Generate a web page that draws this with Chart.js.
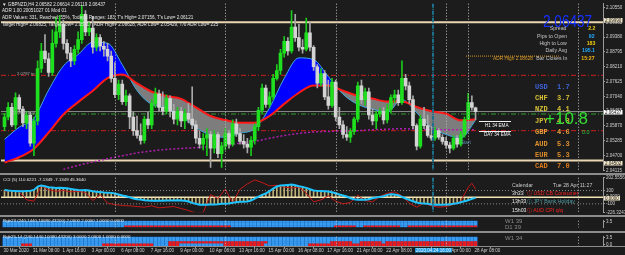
<!DOCTYPE html>
<html>
<head>
<meta charset="utf-8">
<title>GBPNZD H4</title>
<script src="https://cdn.jsdelivr.net/npm/chart.js@4.4.1/dist/chart.umd.min.js"></script>
<style>
  html, body { margin: 0; padding: 0; }
  body { width: 625px; height: 255px; background: #1c1c1c; overflow: hidden; position: relative; font-family: "Liberation Sans", Arial, sans-serif; }
  canvas { position: absolute; left: 0; }
  .sep { position: absolute; left: 0; width: 625px; height: 2px; background: #8c8c8c; }
  .seg { position: absolute; height: 1px; background: #f0f0f0; }
</style>
</head>
<body>
<canvas id="mainChart" width="625" height="174" style="top:0"></canvas>
<canvas id="cciChart" width="625" height="42" style="top:174px"></canvas>
<canvas id="rgbChart1" width="625" height="14" style="top:217px"></canvas>
<canvas id="rgbChart2" width="625" height="22" style="top:233px"></canvas>
<div class="sep" style="top:173px"></div>
<div class="sep" style="top:215px"></div>
<div class="sep" style="top:231px"></div>
<div class="sep" style="top:246px;height:1px"></div>
<script>
// ---- data ----
const timeLabels = ['30 Mar 2020', '31 Mar 08:00', '1 Apr 16:00', '3 Apr 00:00', '6 Apr 08:00', '7 Apr 16:00',
  '9 Apr 00:00', '10 Apr 08:00', '13 Apr 16:00', '15 Apr 00:00', '16 Apr 08:00', '17 Apr 16:00',
  '21 Apr 00:00', '22 Apr 08:00', '23 Apr 16:00', '27 Apr 00:00', '28 Apr 08:00'];

const opens = [
  2.0584, 2.0622, 2.0660, 2.0591, 2.0699, 2.0653, 2.0599, 2.0630, 2.0519, 2.0607,
  2.0814, 2.0883, 2.0852, 2.0798, 2.0913, 2.0959, 2.0990, 2.0913, 2.0875, 2.0844,
  2.0890, 2.0928, 2.1028, 2.0959, 2.0974, 2.0898, 2.0936, 2.0902, 2.0890, 2.0863,
  2.0775, 2.0710, 2.0752, 2.0683, 2.0706, 2.0622, 2.0568, 2.0549, 2.0530, 2.0614,
  2.0591, 2.0676, 2.0714, 2.0660, 2.0645, 2.0695, 2.0645, 2.0614, 2.0645, 2.0607,
  2.0637, 2.0614, 2.0591, 2.0538, 2.0515, 2.0538, 2.0553, 2.0499, 2.0553, 2.0477,
  2.0507, 2.0557, 2.0515, 2.0595, 2.0557, 2.0526, 2.0515, 2.0503, 2.0530, 2.0584,
  2.0649, 2.0737, 2.0672, 2.0702, 2.0775, 2.0806, 2.0875, 2.0921, 2.0883, 2.0978,
  2.0936, 2.0898, 2.0890, 2.0955, 2.0898, 2.0821, 2.0756, 2.0794, 2.0702, 2.0668,
  2.0760, 2.0622, 2.0591, 2.0553, 2.0542, 2.0565, 2.0614, 2.0745, 2.0691, 2.0722,
  2.0630, 2.0607, 2.0634, 2.0645, 2.0611, 2.0653, 2.0699, 2.0710, 2.0679, 2.0775,
  2.0745, 2.0691, 2.0588, 2.0507, 2.0614, 2.0588, 2.0549, 2.0538, 2.0568, 2.0542,
  2.0526, 2.0511, 2.0499, 2.0538, 2.0515, 2.0553, 2.0613, 2.0679, 2.06582];
const highs = [
  2.0637, 2.0679, 2.0676, 2.0718, 2.0710, 2.0664, 2.0645, 2.0641, 2.0622, 2.0844,
  2.0913, 2.0948, 2.0875, 2.0967, 2.1017, 2.1024, 2.1005, 2.0928, 2.0898, 2.0905,
  2.0959, 2.1063, 2.1043, 2.0997, 2.1020, 2.0951, 2.0948, 2.0921, 2.0913, 2.0883,
  2.0837, 2.0768, 2.0768, 2.0729, 2.0714, 2.0641, 2.0626, 2.0595, 2.0626, 2.0641,
  2.0691, 2.0737, 2.0729, 2.0722, 2.0710, 2.0706, 2.0672, 2.0660, 2.0660, 2.0653,
  2.0676, 2.0741, 2.0607, 2.0568, 2.0557, 2.0576, 2.0565, 2.0568, 2.0561, 2.0522,
  2.0576, 2.0568, 2.0611, 2.0614, 2.0576, 2.0553, 2.0538, 2.0545, 2.0595, 2.0660,
  2.0752, 2.0748, 2.0722, 2.0791, 2.0829, 2.0890, 2.0940, 2.0936, 2.1043, 2.1028,
  2.0990, 2.0928, 2.1013, 2.0997, 2.0905, 2.0829, 2.0814, 2.0806, 2.0768, 2.0775,
  2.0768, 2.0660, 2.0607, 2.0584, 2.0576, 2.0622, 2.0760, 2.0768, 2.0737, 2.0737,
  2.0653, 2.0645, 2.0657, 2.0660, 2.0672, 2.0710, 2.0729, 2.0729, 2.0844, 2.0791,
  2.0760, 2.0706, 2.0595, 2.0630, 2.0660, 2.0630, 2.0584, 2.0580, 2.0576, 2.0553,
  2.0542, 2.0522, 2.0549, 2.0549, 2.0565, 2.0622, 2.07156, 2.0706, 2.06614];
const lows = [
  2.0568, 2.0611, 2.0584, 2.0576, 2.0641, 2.0584, 2.0576, 2.0507, 2.0469, 2.0591,
  2.0798, 2.0837, 2.0783, 2.0787, 2.0898, 2.0936, 2.0890, 2.0852, 2.0821, 2.0829,
  2.0875, 2.0913, 2.0944, 2.0944, 2.0875, 2.0883, 2.0883, 2.0863, 2.0844, 2.0760,
  2.0699, 2.0691, 2.0672, 2.0668, 2.0576, 2.0549, 2.0538, 2.0515, 2.0519, 2.0576,
  2.0576, 2.0660, 2.0645, 2.0630, 2.0634, 2.0622, 2.0595, 2.0591, 2.0584, 2.0576,
  2.0599, 2.0576, 2.0519, 2.0499, 2.0492, 2.0469, 2.0423, 2.0480, 2.0461, 2.0423,
  2.0492, 2.0499, 2.0507, 2.0545, 2.0515, 2.0499, 2.0480, 2.0469, 2.0515, 2.0568,
  2.0637, 2.0660, 2.0660, 2.0691, 2.0768, 2.0791, 2.0859, 2.0867, 2.0875, 2.0921,
  2.0883, 2.0875, 2.0883, 2.0883, 2.0806, 2.0737, 2.0745, 2.0691, 2.0653, 2.0660,
  2.0607, 2.0576, 2.0538, 2.0530, 2.0522, 2.0553, 2.0603, 2.0676, 2.0668, 2.0614,
  2.0591, 2.0576, 2.0622, 2.0595, 2.0599, 2.0637, 2.0679, 2.0668, 2.0672, 2.0729,
  2.0676, 2.0576, 2.0492, 2.0499, 2.0576, 2.0542, 2.0530, 2.0530, 2.0534, 2.0515,
  2.0499, 2.0480, 2.0492, 2.0503, 2.0507, 2.0542, 2.06121, 2.0649, 2.06119];
const closes = [
  2.0622, 2.0660, 2.0591, 2.0699, 2.0653, 2.0599, 2.0630, 2.0519, 2.0607, 2.0814,
  2.0883, 2.0852, 2.0798, 2.0913, 2.0959, 2.0990, 2.0913, 2.0875, 2.0844, 2.0890,
  2.0928, 2.1028, 2.0959, 2.0974, 2.0898, 2.0936, 2.0902, 2.0890, 2.0863, 2.0775,
  2.0710, 2.0752, 2.0683, 2.0706, 2.0622, 2.0568, 2.0549, 2.0530, 2.0614, 2.0591,
  2.0676, 2.0714, 2.0660, 2.0645, 2.0695, 2.0645, 2.0614, 2.0645, 2.0607, 2.0637,
  2.0614, 2.0591, 2.0538, 2.0515, 2.0538, 2.0553, 2.0499, 2.0553, 2.0477, 2.0507,
  2.0557, 2.0515, 2.0595, 2.0557, 2.0526, 2.0515, 2.0503, 2.0530, 2.0584, 2.0649,
  2.0737, 2.0672, 2.0702, 2.0775, 2.0806, 2.0875, 2.0921, 2.0883, 2.0978, 2.0936,
  2.0898, 2.0890, 2.0955, 2.0898, 2.0821, 2.0756, 2.0794, 2.0702, 2.0668, 2.0760,
  2.0622, 2.0591, 2.0553, 2.0542, 2.0565, 2.0614, 2.0745, 2.0691, 2.0722, 2.0630,
  2.0607, 2.0634, 2.0645, 2.0611, 2.0653, 2.0699, 2.0710, 2.0679, 2.0775, 2.0745,
  2.0691, 2.0588, 2.0507, 2.0614, 2.0588, 2.0549, 2.0538, 2.0568, 2.0542, 2.0526,
  2.0511, 2.0499, 2.0538, 2.0515, 2.0553, 2.0611, 2.0679, 2.0660, 2.06437];

// moving averages, read every 4th bar
const emaIdx = [0, 4, 8, 12, 16, 20, 24, 28, 32, 36, 40, 44, 48, 52, 56, 60, 64, 68, 72, 76, 80,
  84, 88, 92, 96, 100, 104, 108, 112, 116, 120, 124, 128];
const emaSlow = [2.0442, 2.0463, 2.0497, 2.0561, 2.0632, 2.0681, 2.0726, 2.0776, 2.0790, 2.0755, 2.0722,
  2.0705, 2.0694, 2.0660, 2.0626, 2.0610, 2.0599, 2.0599, 2.0626, 2.0674, 2.0718,
  2.0747, 2.0747, 2.0726, 2.0706, 2.0695, 2.0683, 2.0683, 2.0662, 2.0645, 2.0635, 2.0609, 2.0613];
const emaFast = [2.0534, 2.0582, 2.0617, 2.0729, 2.0824, 2.0869, 2.0918, 2.0914, 2.0829, 2.0727, 2.0672,
  2.0659, 2.0625, 2.0581, 2.0550, 2.0542, 2.0558, 2.0576, 2.0658, 2.0775, 2.0856,
  2.0849, 2.0782, 2.0712, 2.0672, 2.0653, 2.0641, 2.0691, 2.0639, 2.0580, 2.0553, 2.0539, 2.0609];
const dayEmaIdx = [16, 20, 24, 28, 32, 36, 40, 44, 48, 52, 56, 60, 64, 68, 72, 76, 80, 84, 88, 92,
  96, 100, 104, 108, 112, 116, 120, 124, 128];
const dayEma = [2.0415, 2.0431, 2.0444, 2.0457, 2.0469, 2.0480, 2.0488, 2.0494, 2.0498, 2.0501,
  2.0505, 2.0509, 2.0519, 2.0526, 2.0538, 2.0549, 2.0557, 2.0563, 2.0565, 2.0567,
  2.0568, 2.0572, 2.0574, 2.0576, 2.0574, 2.0572, 2.0572, 2.0572, 2.0572];

// horizontal levels
const adrUpper = 2.0997, adrLower = 2.0450, tpLine = 2.0787, slLine = 2.0568;
const entryLine = 2.0634, bidLine = 2.06437, adrHighLine = 2.0863;

// CCI window
const cciSlow = [107, 100, 95, 92, 90, 90, 92, 95, 110, 160, 175, 165, 150, 145, 140, 142, 140, 135,
  125, 115, 108, 105, 107, 100, 90, 82, 78, 72, 68, 65, 55, 40, 25, 15, 0, -20, -30, -35,
  -45, -50, -52, -55, -53, -52, -50, -50, -48, -47, -50, -52, -65, -85, -100, -112, -115,
  -112, -110, -108, -105, -100, -98, -95, -85, -75, -70, -68, -65, -50, -20, 10, 35, 55,
  90, 130, 160, 175, 180, 185, 190, 180, 165, 155, 140, 120, 100, 95, 92, 90, 85, 75,
  60, 40, 25, 10, -15, -30, -38, -40, -38, -30, -15, -5, 5, 15, 35, 45, 40, 30, 5, -20, -40,
  -60, -80, -90, -95, -100, -108, -112, -115, -112, -110, -108, -100, -90, -75, -60, -45, -25, -10];
const cciFastIdx = [0, 2, 4, 6, 8, 10, 12, 14, 16, 18, 20, 22, 24, 26, 28, 30, 32, 34, 36, 38, 40,
  42, 44, 46, 48, 50, 52, 54, 56, 58, 60, 62, 64, 66, 68, 70, 72, 74, 76, 78, 80, 82, 84, 86,
  88, 90, 92, 94, 96, 98, 100, 102, 104, 106, 108, 110, 112, 114, 116, 118, 120, 122, 124, 126, 127, 128];
const cciFast = [90, 100, 80, -40, -60, 170, 110, 90, 100, 80, 90, 70, -50, 40, -90, -110, -125, -130,
  -140, -150, -130, -160, -150, -140, -170, -200, -240, -230, 40, -20, 120, -80, 120, 200, 260,
  220, 170, 180, 150, 140, 150, 60, -70, -40, 20, -60, -100, -80, 30, -50, -70, 10, 60, 80, 20,
  -90, -150, -90, -130, -150, -140, -110, -60, 150, 210, 120];
const cciTicks = [293, 100, 0, -100, -227];
const cciTickText = ['202.5556', '100', '0.0000', '-100', '-226.3247'];

// colour-state panels: bar ranges where a row is red (row 0 = bottom)
const rgb23Red = [[[33, 61], [90, 95], [98, 107], [110, 128]], [], [], []];
const rgb25Red = [[[5, 7], [27, 40], [45, 47], [60, 70], [83, 128]], [[45, 71], [89, 94], [97, 102], [104, 128]], [], []];
const rowLevels = [0, 1.1667, 2.3333, 3.5];

// ---- layout helpers ----
const family = '"Liberation Sans", Arial, sans-serif';
const xMin = -0.9511, xMax = 162.636;
const crossAt = 116.4;
const barIdx = opens.map((o, i) => i);
const timeIdx = timeLabels.map((t, k) => k * 8);
const priceTicks = [];
for (let k = 0; k < 12; k++) priceTicks.push(+(2.04115 + k * 0.00585).toFixed(5));

Chart.defaults.font.family = family;

const sepPlugin = {
  id: 'seps',
  afterDatasetsDraw(chart, args, opts) {
    const { ctx, chartArea: a } = chart;
    const x = chart.scales.x;
    ctx.save();
    ctx.strokeStyle = '#bfbfbf';
    ctx.lineWidth = 1;
    ctx.setLineDash([1, 2]);
    (opts.at || []).forEach(v => {
      const px = Math.round(x.getPixelForValue(v)) + 0.5;
      ctx.beginPath(); ctx.moveTo(px, a.top); ctx.lineTo(px, a.bottom); ctx.stroke();
    });
    if (opts.cross) {
      ctx.strokeStyle = '#1d6f8c';
      ctx.lineWidth = 2;
      ctx.setLineDash([4, 1, 1, 1]);
      const cx = Math.round(x.getPixelForValue(crossAt));
      ctx.beginPath(); ctx.moveTo(cx, a.top); ctx.lineTo(cx, a.bottom); ctx.stroke();
    }
    ctx.restore();
  }
};

function yAxis(min, max, ticks, fmt) {
  return {
    position: 'right', min, max,
    afterFit: s => { s.width = 22; },
    afterBuildTicks: s => { s.ticks = ticks.map(v => ({ value: v })); },
    grid: { drawOnChartArea: false, tickLength: 2, color: '#9a9a9a' },
    border: { color: '#9a9a9a' },
    ticks: { color: '#d0d0d0', font: { size: 4.5 }, padding: 1, callback: fmt }
  };
}

function hiddenX() {
  return { type: 'linear', min: xMin, max: xMax, offset: false, display: false };
}

function baseOptions(padding, scales, seps) {
  return {
    responsive: false, animation: false, events: [],
    layout: { padding },
    plugins: { legend: { display: false }, tooltip: { enabled: false }, seps },
    scales
  };
}

function level(p, color, dash, width, from, to) {
  return {
    type: 'line', data: [{ x: from ?? xMin, y: p }, { x: to ?? xMax, y: p }],
    borderColor: color, borderDash: dash, borderWidth: width, pointRadius: 0, order: 8
  };
}

function inRanges(ranges, i) {
  return ranges.some(r => i >= r[0] && i <= r[1]);
}

// ---- main price chart ----
const bull = barIdx.map(i => closes[i] >= opens[i]);
const mainSets = [
  { type: 'bar', data: barIdx.map(i => ({ x: i, y: [opens[i], closes[i]] })),
    backgroundColor: barIdx.map(i => bull[i] ? '#1fe01f' : '#d4d4d4'), barThickness: 3, grouped: false, order: 0 },
  { type: 'bar', data: barIdx.map(i => ({ x: i, y: [lows[i], highs[i]] })),
    backgroundColor: barIdx.map(i => bull[i] ? '#1cc81c' : '#a8a8a8'), barThickness: 1, grouped: false, order: 1 },
  { type: 'line', data: emaIdx.map((i, k) => ({ x: i, y: emaSlow[k] })), borderColor: '#ff1a1a', borderWidth: 2,
    pointRadius: 0, cubicInterpolationMode: 'monotone', order: 2 },
  { type: 'line', data: emaIdx.map((i, k) => ({ x: i, y: emaFast[k] })), borderColor: '#3fa9e0', borderWidth: 1,
    pointRadius: 0, cubicInterpolationMode: 'monotone', order: 4,
    fill: { target: 2, above: '#0000ff', below: '#7d7d7d' } },
  { type: 'line', data: dayEmaIdx.map((i, k) => ({ x: i, y: dayEma[k] })), borderColor: '#b01eb0', borderWidth: 1.5,
    borderDash: [2, 2], pointRadius: 0, cubicInterpolationMode: 'monotone', order: 3 },
  level(adrUpper, '#ead7b2', [], 2),
  level(adrLower, '#ead7b2', [], 2),
  level(tpLine, '#cc1e1e', [5, 2, 1, 2], 1),
  level(slLine, '#cc1e1e', [5, 2, 1, 2], 1),
  level(entryLine, '#2e9e2e', [5, 2, 1, 2], 1),
  level(bidLine, '#8a8a8a', [], 1),
  level(adrHighLine, '#d89a28', [1, 1], 1, 125.4, 151)
];

new Chart(document.getElementById('mainChart'), {
  type: 'bar',
  data: { datasets: mainSets },
  options: baseOptions({ left: 1, top: 1, bottom: 1, right: 0 }, {
    x: hiddenX(),
    y: yAxis(2.04114, 2.10702, priceTicks, v => v.toFixed(5))
  }, { at: [30, 60, 90, 120, 126, 155.8], cross: true }),
  plugins: [sepPlugin]
});

// ---- CCI window ----
new Chart(document.getElementById('cciChart'), {
  type: 'bar',
  data: { datasets: [
    { type: 'line', data: barIdx.map(i => ({ x: i, y: cciSlow[i] })), borderColor: '#1ec4ff', borderWidth: 2, pointRadius: 0, order: 0 },
    { type: 'line', data: cciFastIdx.map((i, k) => ({ x: i, y: cciFast[k] })), borderColor: '#c41a1a', borderWidth: 1, pointRadius: 0, order: 1 },
    { type: 'bar', data: barIdx.map(i => ({ x: i, y: [0, cciSlow[i]] })), backgroundColor: '#bcae74', barThickness: 1, grouped: false, order: 3 },
    level(100, '#8c8c8c', [1, 2], 1),
    level(-100, '#8c8c8c', [1, 2], 1),
    Object.assign(level(0, '#f2e4b4', [], 1.5), { order: 2 })
  ] },
  options: baseOptions({ left: 1, top: 2, bottom: 1, right: 0 }, {
    x: hiddenX(),
    y: yAxis(-227, 293, cciTicks, (v, k) => cciTickText[k])
  }, { at: [30, 60, 90, 120, 155.8], cross: true }),
  plugins: [sepPlugin]
});

// ---- colour-state panels ----
function heatSets(redRows) {
  const sets = rowLevels.map((lvl, r) => ({
    type: 'bar', data: barIdx.map(i => ({ x: i, y: [lvl - 0.46, lvl + 0.46] })),
    backgroundColor: barIdx.map(i => inRanges(redRows[r], i) ? '#f01a1a' : '#379cf2'),
    barThickness: 2.7, grouped: false, order: 0
  }));
  sets.push({ type: 'bar', data: barIdx.map(i => ({ x: i, y: [-0.5833, 4.0833] })),
    backgroundColor: '#0e4a94', barThickness: 3.7, grouped: false, order: 1 });
  return sets;
}

new Chart(document.getElementById('rgbChart1'), {
  type: 'bar',
  data: { datasets: heatSets(rgb23Red) },
  options: baseOptions({ left: 1, top: 0, bottom: 0, right: 0 }, {
    x: hiddenX(),
    y: yAxis(-0.5833, 4.0833, [3.5, 0], v => v.toFixed(1))
  }, { at: [30, 60, 90, 120, 155.8] }),
  plugins: [sepPlugin]
});

new Chart(document.getElementById('rgbChart2'), {
  type: 'bar',
  data: { datasets: heatSets(rgb25Red) },
  options: baseOptions({ left: 1, top: 0, bottom: 0, right: 0 }, {
    x: {
      type: 'linear', min: xMin, max: xMax, offset: false, position: 'bottom',
      afterFit: s => { s.height = 9; },
      afterBuildTicks: s => { s.ticks = timeIdx.map(v => ({ value: v })); },
      grid: { drawOnChartArea: false, tickLength: 2, color: '#9a9a9a' },
      border: { display: false },
      ticks: { color: '#d0d0d0', font: { size: 4.5 }, align: 'start', maxRotation: 0, autoSkip: false,
        padding: 0, labelOffset: -1, callback: (v, k) => timeLabels[k] }
    },
    y: yAxis(-0.5833, 4.0833, [3.5, 0], v => v.toFixed(1))
  }, { at: [30, 60, 90, 120, 155.8] }),
  plugins: [sepPlugin]
});

// ---- text overlays ----
function addText(x, y, text, color, size, opts = {}) {
  const d = document.createElement('div');
  d.textContent = text;
  const s = d.style;
  s.position = 'absolute';
  s.whiteSpace = 'nowrap';
  s.fontSize = (size * 2) + 'px';
  s.lineHeight = '1';
  s.color = color;
  s.fontFamily = opts.font || family;
  if (opts.bold) s.fontWeight = 'bold';
  if (opts.bg) { s.background = opts.bg; s.padding = '0 2px'; }
  s.top = (y - size * 0.5) + 'px';
  if (opts.right) { s.right = (625 - x) + 'px'; s.transformOrigin = '100% 0'; }
  else { s.left = x + 'px'; s.transformOrigin = '0 0'; }
  s.transform = 'scale(' + (0.5 * (opts.sx || 1)) + ', 0.5)';
  document.body.appendChild(d);
}

function addSeg(x, y, w) {
  const d = document.createElement('div');
  d.className = 'seg';
  d.style.left = x + 'px'; d.style.top = y + 'px'; d.style.width = w + 'px';
  document.body.appendChild(d);
}

const white = '#e6e6e6';
addText(2, 4, '\u25BC GBPNZD,H4  2.06582 2.06614 2.06119 2.06437', white, 4.6);
addText(2, 10.5, 'ADR 1.00 20051027 01 Mod 01', white, 4.6);
addText(2, 17, 'ADR Values: 331, Reached: 55%, Today\'s Ranges: 183, T\'s High= 2.07156, T\'s Low= 2.06121', white, 4.6);
addText(2, 24, 'Target High= 2.06825, Target Low= 2.05717, ADR High= 2.08628, ADR Low= 2.05429, T/0 ADR Low= 225', white, 4.6);

// right info block
addText(543, 20, '2.06437', '#1530ff', 17, { sx: 0.8 });
const infoRows = [['Spread', '2.2', '#f0cc10'], ['Pips to Open', '92', '#22aaff'], ['High to Low', '183', '#f0cc10'],
  ['Daily Avg', '195.1', '#22aaff'], ['Bar Closes In', '15:27', '#f0b810']];
infoRows.forEach((r, k) => {
  addText(567, 29 + k * 7.3, r[0], '#c4c4c4', 5.2, { right: true });
  addText(595, 29 + k * 7.3, r[1], r[2], 5.2, { right: true, bold: true });
});
addText(493, 58, 'ADR High 2.08628', '#d89a28', 4.8);

// currency strength
const curRows = [['USD', '1.7', '#3d62d8'], ['CHF', '3.7', '#d8c236'], ['NZD', '4.1', '#d8c236'], ['JPY', '4.3', '#d8c236'],
  ['GBP', '4.6', '#e6a03a'], ['AUD', '5.3', '#e0922c'], ['EUR', '5.3', '#d88a2a'], ['CAD', '7.0', '#e07c1c']];
curRows.forEach((r, k) => {
  addText(535, 86 + k * 11.4, r[0], r[2], 7, { font: '"Liberation Mono", monospace', bold: true });
  addText(557, 86 + k * 11.4, r[1], r[2], 7, { font: '"Liberation Mono", monospace', bold: true });
});
addText(545, 117, '+10.8', '#33dd33', 17);
addText(582, 132, '0.0', '#2ecc40', 5.5);

// EMA tags
addSeg(479, 121, 32);
addSeg(479, 131, 32);
addText(485, 125, 'H1 34 EMA', '#f4f4f4', 4.6);
addText(484, 134, 'DAY 34 EMA', '#f4f4f4', 4.6);
addText(461, 142, 'Start', '#5a8fb0', 4.6);

// left trade tags
addText(5, 73, '    ', '#000', 4.6, { bg: '#ffffff' });
addText(17, 73, '2.0787 tp', '#a8a8a8', 4.2);
addText(2, 112, '    ', '#000', 4.6, { bg: '#ffffff' });
addText(14, 112, '2.0634 buy', '#a8a8a8', 4.2);

// highlighted axis values
addText(604, 20, '2.09990', '#222', 4.5, { bg: '#efe3c6' });
addText(604, 112, '2.06437', '#111', 4.5, { bg: '#ffffff' });
addText(604, 163, '2.04502', '#222', 4.5, { bg: '#efe3c6' });
addText(604, 198, '0.0000', '#222', 4.5, { bg: '#efe3c6' });

// CCI caption and calendar
addText(3, 179.5, 'CCI (5) 110.6221 -7.1349 -7.1349 45.3640', white, 4.4);
addText(512, 186, 'Calendar', '#c8c8c8', 5.2);
addText(553, 186, 'Tue 28 Apr 11:27', '#c8c8c8', 5.2);
addText(512, 194, '3h33', white, 5.2);
addText(527, 194, '\u24D8 USD CB Consumer', '#ff2020', 5.2);
addText(512, 202, '13h33', white, 5.2);
addText(527, 202, '\u24D8 JPY Bank Holiday', '#4d9aa2', 5.2);
addText(512, 210.5, '15h03', white, 5.2);
addText(527, 210.5, '\u24D8 AUD CPI q/q', '#ff2020', 5.2);

// state panels captions
addText(3, 220, 'Rgb23 (240,1440,10080,43200) 2.0000 2.0000 1.0000 0.0000', white, 4.4);
addText(3, 236, 'Rgb25-14 (240,1440,10080,43200) 3.0000 2.0000 1.0000 0.0000', white, 4.4);
addText(505, 221, 'W1 39', '#8a8a8a', 6);
addText(505, 227, 'D1 39', '#8a8a8a', 6);
addText(505, 238, 'W1 34', '#8a8a8a', 6);

// crosshair time tag
addText(415, 250.5, '2020.04.24 16:00', '#e4f4ff', 4.5, { bg: '#1e9be0' });
</script>
</body>
</html>
